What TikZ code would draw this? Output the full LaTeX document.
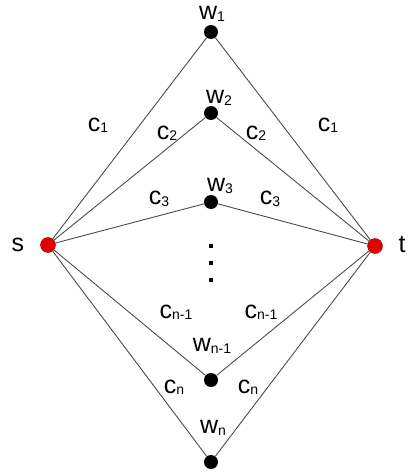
\documentclass[tikz,border=0pt]{standalone}
\usepackage{fontspec}
\setmainfont{Liberation Sans}
\usepackage{tikz}
\usetikzlibrary{positioning,calc}
\newcommand{\lblfont}{\fontsize{25}{29}\selectfont}
\newcommand{\sub}[1]{\raisebox{-0.1ex}{\fontsize{14}{16}\selectfont #1}}

\begin{document}
\begin{tikzpicture}[x=1pt, y=-1pt,
    vertex/.style={circle, fill=black, inner sep=0pt, minimum size=14pt},
    terminal/.style={circle, draw=red!55!black, line width=0.4pt, fill=red!90!black, inner sep=0pt, minimum size=15pt},
    edge/.style={draw=black!70, line width=0.9pt},
    lbl/.style={font=\lblfont, inner sep=0pt}
]
    \useasboundingbox (0,0) rectangle (409,476);

    % terminals and middle vertices
    \node[terminal] (s) at (48,245) {};
    \node[terminal] (t) at (375,246) {};
    \node[vertex] (w1) at (211,32) {};
    \node[vertex] (w2) at (211,113) {};
    \node[vertex] (w3) at (211,202) {};
    \node[vertex] (wm) at (211,380) {};
    \node[vertex] (wn) at (211,462) {};

    \foreach \w in {w1,w2,w3,wm,wn} {
        \draw[edge] (s) -- (\w);
        \draw[edge] (\w) -- (t);
    }

    % vertical dots
    \foreach \y [count=\i] in {246,263,280}
        \node[fill=black, inner sep=0pt, minimum size=4.5pt] (dot\i) at (211,\y) {};

    % node labels
    \node[lbl] (ls) at (18,245) {s};
    \node[lbl] (lt) at (402,245) {t};
    \node[lbl] (lw1) at (212,14) {w\sub{1}};
    \node[lbl] (lw2) at (219,98) {w\sub{2}};
    \node[lbl] (lw3) at (220,186) {w\sub{3}};
    \node[lbl] (lwm) at (212,346) {w\sub{n-1}};
    \node[lbl] (lwn) at (213,428) {w\sub{n}};

    % edge labels
    \node[lbl] (c1l) at (98,125) {c\sub{1}};
    \node[lbl] (c1r) at (328,125) {c\sub{1}};
    \node[lbl] (c2l) at (167,133) {c\sub{2}};
    \node[lbl] (c2r) at (256,133) {c\sub{2}};
    \node[lbl] (c3l) at (159,199) {c\sub{3}};
    \node[lbl] (c3r) at (270,199) {c\sub{3}};
    \node[lbl] (cml) at (176,312) {c\sub{n-1}};
    \node[lbl] (cmr) at (261,312) {c\sub{n-1}};
    \node[lbl] (cnl) at (174,387) {c\sub{n}};
    \node[lbl] (cnr) at (248,387) {c\sub{n}};
\end{tikzpicture}
\end{document}
